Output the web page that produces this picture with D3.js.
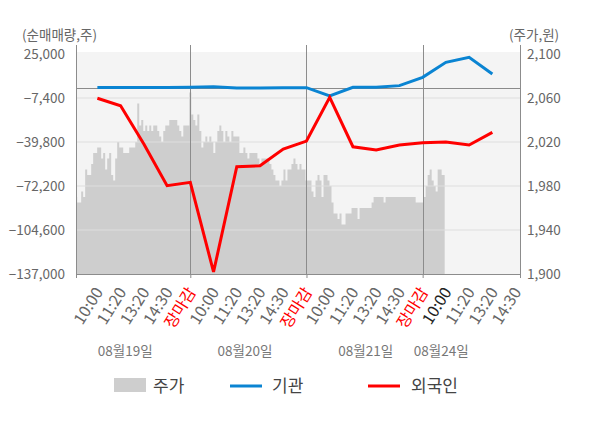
<!DOCTYPE html>
<html>
<head>
<meta charset="utf-8">
<script src="https://cdn.jsdelivr.net/npm/d3@7"></script>
<style>
  body { margin: 0; background: #fff; }
  svg text { font-family: "Noto Sans CJK KR", "Noto Sans", sans-serif; }
</style>
</head>
<body>
<div id="chartParent"></div>
<script>
// x categories (slot 1..19), one label per slot
const tickLabels = ["10:00","11:20","13:20","14:30","장마감",
                    "10:00","11:20","13:20","14:30","장마감",
                    "10:00","11:20","13:20","14:30","장마감",
                    "10:00","11:20","13:20","14:30"];
const dayLabels = ["08월19일","08월20일","08월21일","08월24일"];
const daySlots = [2.2, 7.35, 12.55, 15.8];
const closeSlots = [5, 10, 15];
const currentSlot = 16;

// net buying, shares (slots 1..18)
const institution = [300, 300, 300, 300, 600, 900, 0, 0, 100, 200,
                     -5800, 500, 500, 1700, 7800, 18900, 22600, 10300];
const foreigner = [-7600, -13100, -41300, -72000, -69500, -135500, -58000, -57300, -45000, -39100,
                   -6900, -43300, -45700, -42000, -40300, -39800, -42000, -32700];

// price, won (58 samples per trading day, from day1 open to day4 10:00)
const samplesPerDay = 58;
const price = [
  1970,1965,1965,1975,1970,1995,1990,1990,2000,2010,
  2010,2015,2015,2005,2010,1995,2005,2010,1990,1985,
  2005,2020,2015,2015,2010,2010,2010,2015,2015,2015,
  2020,2055,2035,2040,2030,2035,2030,2035,2030,2035,
  2035,2030,2025,2020,2030,2035,2035,2040,2040,2040,
  2040,2035,2030,2025,2035,2035,2035,2065,2045,2040,
  2035,2045,2030,2015,2020,2025,2020,2025,2020,2010,
  2020,2030,2035,2030,2020,2030,2025,2020,2030,2025,
  2025,2025,2010,2010,2015,2010,2005,2010,2010,2010,
  2010,2005,2000,2005,2005,2005,2005,2000,1995,1990,
  1985,1985,1980,1985,1995,1985,1995,1995,2000,2005,
  2000,1995,2000,1995,1995,1985,1985,1985,1975,1970,
  1985,1990,1985,1970,1990,1990,1985,1980,1965,1955,
  1955,1950,1955,1945,1945,1955,1955,1955,1960,1960,
  1960,1950,1960,1960,1960,1960,1960,1960,1965,1970,
  1970,1970,1970,1970,1965,1970,1970,1970,1970,1970,
  1970,1970,1970,1970,1970,1970,1970,1970,1970,1970,
  1965,1965,1965,1965,1970,1980,1990,1995,1985,1980,
  1975,1995,1995,1990,1990
];

const leftTicks = [25000, -7400, -39800, -72200, -104600, -137000];
const rightTicks = [2100, 2060, 2020, 1980, 1940, 1900];

// layout
const W = 600, H = 428;
const plot = {left: 76, right: 520, top: 52, bottom: 274, lineTop: 45};

const svg = d3.select("#chartParent")
  .append("svg")
  .attr("width", W)
  .attr("height", H);

const x = d3.scaleLinear()
  .domain([0.08, 19.19])
  .range([plot.left, plot.right]);

const yL = d3.scaleLinear()
  .domain([-137000, 25000])
  .range([plot.bottom, 54]);

const yR = d3.scaleLinear()
  .domain([1900, 2100])
  .range([plot.bottom, 54]);

// background
svg.append("rect")
  .attr("x", plot.left)
  .attr("y", plot.top)
  .attr("width", plot.right - plot.left)
  .attr("height", plot.bottom - plot.top)
  .style("fill", "#f4f4f4");

svg.append("clipPath").attr("id", "plotClip")
  .append("rect")
  .attr("x", plot.left)
  .attr("y", plot.top)
  .attr("width", plot.right - plot.left)
  .attr("height", plot.bottom - plot.top);

// price area
const area = d3.area()
  .x((d, i) => x((i + 1) * 5 / samplesPerDay))
  .y0(plot.bottom)
  .y1(d => yR(d))
  .curve(d3.curveStep);

svg.append("path")
  .datum(price)
  .attr("clip-path", "url(#plotClip)")
  .attr("d", area)
  .style("fill", "#cecece");

// grid lines
svg.append("g")
  .selectAll("line")
  .data(leftTicks.slice(1, -1))
  .enter()
  .append("line")
    .attr("x1", plot.left)
    .attr("x2", plot.right)
    .attr("y1", d => yL(d))
    .attr("y2", d => yL(d))
    .style("stroke", "#dedede")
    .style("stroke-width", 1);

// zero line
svg.append("line")
  .attr("x1", plot.left)
  .attr("x2", plot.right)
  .attr("y1", Math.round(yL(0)) + 0.5)
  .attr("y2", Math.round(yL(0)) + 0.5)
  .style("stroke", "#8a8a8a");

// day separators + side axes
svg.append("g")
  .selectAll("line")
  .data([0.08].concat(closeSlots, [19.19]))
  .enter()
  .append("line")
    .attr("x1", d => Math.round(x(d)) + 0.5)
    .attr("x2", d => Math.round(x(d)) + 0.5)
    .attr("y1", plot.lineTop)
    .attr("y2", plot.bottom)
    .style("stroke", "#8c8c8c");

// bottom axis
const xAxis = svg.append("g")
  .attr("transform", `translate(0,${plot.bottom})`)
  .call(d3.axisBottom(x).tickValues([0.08].concat(closeSlots, [19.19])).tickSize(4).tickFormat(""));
xAxis.select(".domain").attr("stroke", "#8c8c8c");
xAxis.selectAll(".tick line").attr("stroke", "#8c8c8c");

// rotated time labels
const slots = tickLabels.map((d, i) => i + 1);
const xLabels = svg.append("g")
  .attr("transform", `translate(0,${plot.bottom})`)
  .call(d3.axisBottom(x).tickValues(slots).tickSize(0).tickFormat((d, i) => tickLabels[i]));
xLabels.select(".domain").remove();
xLabels.selectAll(".tick text")
  .attr("y", 0)
  .attr("dy", "0.35em")
  .attr("transform", "translate(1,15) rotate(-58)")
  .style("text-anchor", "end")
  .style("font-size", "16px")
  .attr("fill", (d, i) => tickLabels[i] === "장마감" ? "#ff0000" : (d === currentSlot ? "#222" : "#666"));

// date labels
svg.append("g")
  .selectAll("text")
  .data(dayLabels)
  .enter()
  .append("text")
    .attr("x", (d, i) => x(daySlots[i]))
    .attr("y", 351)
    .attr("dy", "0.35em")
    .attr("text-anchor", "middle")
    .style("font-size", "13.5px")
    .style("fill", "#777")
    .text(d => d);

// left axis
const leftAxis = svg.append("g")
  .attr("transform", `translate(${plot.left},0)`)
  .call(d3.axisLeft(yL).tickValues(leftTicks).tickSize(0).tickPadding(11).tickFormat(d3.format(",")));
leftAxis.select(".domain").remove();
leftAxis.selectAll(".tick text").style("font-size", "13.5px").attr("fill", "#666");

// right axis
const rightAxis = svg.append("g")
  .attr("transform", `translate(${plot.right},0)`)
  .call(d3.axisRight(yR).tickValues(rightTicks).tickSize(0).tickPadding(7).tickFormat(d3.format(",")));
rightAxis.select(".domain").remove();
rightAxis.selectAll(".tick text").style("font-size", "13.5px").attr("fill", "#666");

// unit labels
svg.append("text")
  .attr("x", 22)
  .attr("y", 35)
  .attr("dy", "0.35em")
  .style("font-size", "13.5px")
  .style("fill", "#666")
  .text("(순매매량,주)");
svg.append("text")
  .attr("x", 509)
  .attr("y", 35)
  .attr("dy", "0.35em")
  .style("font-size", "13.5px")
  .style("fill", "#666")
  .text("(주가,원)");

// net buying lines
const line = d3.line()
  .x((d, i) => x(i + 1))
  .y(d => yL(d));

svg.append("path")
  .datum(institution)
  .attr("d", line)
  .style("fill", "none")
  .style("stroke", "#0a84d2")
  .style("stroke-width", 3);

svg.append("path")
  .datum(foreigner)
  .attr("d", line)
  .style("fill", "none")
  .style("stroke", "#ff0000")
  .style("stroke-width", 3);

// legend
const legend = svg.append("g");
legend.append("rect")
  .attr("x", 114).attr("y", 378)
  .attr("width", 32).attr("height", 14)
  .style("fill", "#cecece");
legend.append("line")
  .attr("x1", 230).attr("x2", 262).attr("y1", 386).attr("y2", 386)
  .style("stroke", "#0a84d2").style("stroke-width", 3);
legend.append("line")
  .attr("x1", 368).attr("x2", 400).attr("y1", 386).attr("y2", 386)
  .style("stroke", "#ff0000").style("stroke-width", 3);
const legendNames = ["주가", "기관", "외국인"];
const legendX = [153, 272, 411];
legend.selectAll("text")
  .data(legendNames)
  .enter()
  .append("text")
    .attr("x", (d, i) => legendX[i])
    .attr("y", 386)
    .attr("dy", "0.35em")
    .style("font-size", "17px")
    .style("fill", "#444")
    .text(d => d);
</script>
</body>
</html>
